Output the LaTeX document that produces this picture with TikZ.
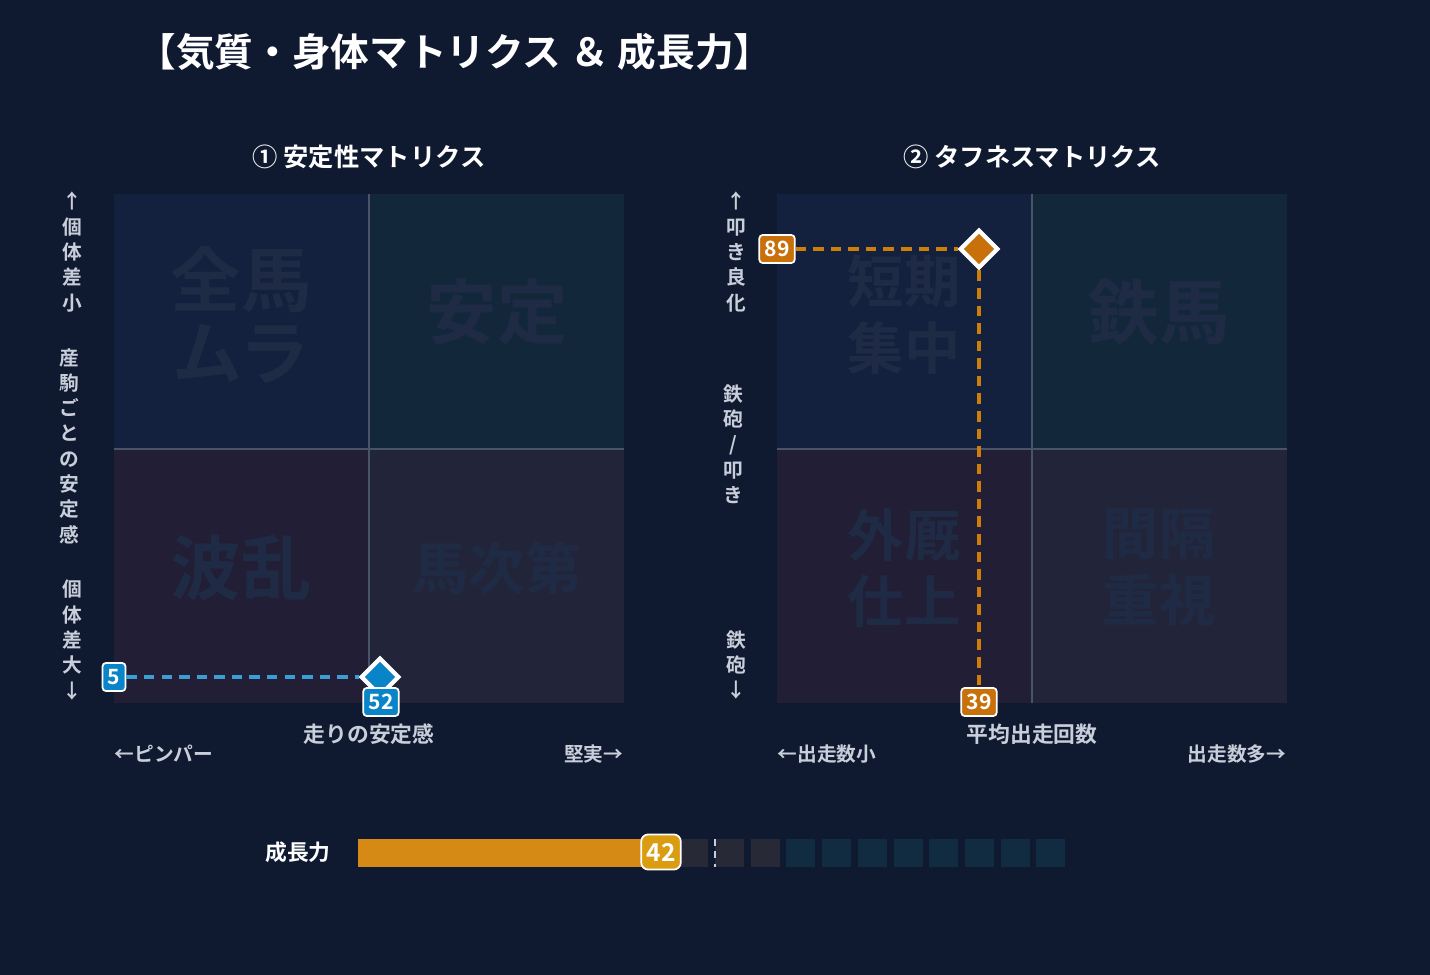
\documentclass[tikz,border=0pt]{standalone}
\usepackage{fontspec}
\setmainfont{Noto Sans CJK JP}[BoldFont={* Bold}]
\usetikzlibrary{shapes.geometric}
\definecolor{bg}{HTML}{0F1930}
\definecolor{qTL}{HTML}{13213F}
\definecolor{qTR}{HTML}{12283A}
\definecolor{qBL}{HTML}{211E35}
\definecolor{qBR}{HTML}{22253A}
\definecolor{mark}{HTML}{1F2B45}
\definecolor{grid}{HTML}{4A5468}
\definecolor{ptblue}{HTML}{0A84C8}
\definecolor{ptorange}{HTML}{C8700A}
\definecolor{barorange}{HTML}{D48A14}
\definecolor{cellgray}{HTML}{272A36}
\definecolor{cellteal}{HTML}{112B40}
\definecolor{lbl}{HTML}{C9CFDA}
\tikzset{
  quad/.style={draw=none},
  wmark/.style={text=mark,font=\fontsize{20}{21}\selectfont\bfseries,align=center},
  axis/.style={text=lbl,font=\fontsize{5.6}{7.2}\selectfont\bfseries,align=center,inner sep=0pt},
  tag/.style={draw=white,line width=0.5pt,rounded corners=1pt,text=white,font=\fontsize{6}{6}\selectfont\bfseries,inner sep=1.5pt,minimum height=8pt},
  pt/.style={diamond,draw=white,line width=1.2pt,minimum size=11pt,inner sep=0pt},
  guide/.style={dashed,dash pattern=on 3pt off 2pt,line width=0.9pt}
}
\begin{document}
\begin{tikzpicture}[x=0.1mm,y=-0.1mm]
\fill[bg] (0,0) rectangle (1430,975);
\useasboundingbox (0,0) rectangle (1430,975);
% title
\node[anchor=west,text=white,font=\fontsize{11}{11}\selectfont\bfseries] (title) at (125,52) {【気質・身体マトリクス ＆ 成長力】};
% left matrix
\node[text=white,font=\fontsize{7.2}{7.2}\selectfont\bfseries] (lhead) at (369,157) {① 安定性マトリクス};
\fill[qTL] (114,194) rectangle (369,449);
\fill[qTR] (369,194) rectangle (624,449);
\fill[qBL] (114,449) rectangle (369,703);
\fill[qBR] (369,449) rectangle (624,703);
\draw[grid,line width=0.6pt] (369,194) -- (369,703) (114,449) -- (624,449);
\node[wmark] (lTL) at (241,315) {全馬\\ムラ};
\node[wmark] (lTR) at (497,312) {安定};
\node[wmark] (lBL) at (241,568) {波乱};
\node[wmark,font=\fontsize{16}{17}\selectfont\bfseries] (lBR) at (497,568) {馬次第};
\node[axis] (ly1) at (72,252) {↑\\個\\体\\差\\小};
\node[axis] (ly2) at (69,446) {産\\駒\\ご\\と\\の\\安\\定\\感};
\node[axis] (ly3) at (72,640) {個\\体\\差\\大\\↓};
\node[text=lbl,font=\fontsize{6.2}{6.2}\selectfont\bfseries] (lx) at (369,734) {走りの安定感};
\node[axis,anchor=west] (lxl) at (114,754) {←ピンパー};
\node[axis,anchor=east] (lxr) at (624,754) {堅実→};
\node[pt,fill=ptblue] (lp) at (380,677) {};
\node[tag,fill=ptblue] (lvy) at (114,677) {5};
\node[tag,fill=ptblue] (lvx) at (381,702) {52};
\draw[guide,ptblue!80!white] (lvy) -- (lp);
% right matrix
\node[text=white,font=\fontsize{7.2}{7.2}\selectfont\bfseries] (rhead) at (1032,157) {② タフネスマトリクス};
\fill[qTL] (777,194) rectangle (1032,449);
\fill[qTR] (1032,194) rectangle (1287,449);
\fill[qBL] (777,449) rectangle (1032,703);
\fill[qBR] (1032,449) rectangle (1287,703);
\draw[grid,line width=0.6pt] (1032,194) -- (1032,703) (777,449) -- (1287,449);
\node[wmark,font=\fontsize{16}{19}\selectfont\bfseries] (rTL) at (904,315) {短期\\集中};
\node[wmark] (rTR) at (1159,312) {鉄馬};
\node[wmark,font=\fontsize{16}{19}\selectfont\bfseries] (rBL) at (904,568) {外厩\\仕上};
\node[wmark,font=\fontsize{16}{19}\selectfont\bfseries] (rBR) at (1159,568) {間隔\\重視};
\node[axis] (ry1) at (736,252) {↑\\叩\\き\\良\\化};
\node[axis] (ry2) at (733,444) {鉄\\砲\\/\\叩\\き};
\node[axis] (ry3) at (736,665) {鉄\\砲\\↓};
\node[text=lbl,font=\fontsize{6.2}{6.2}\selectfont\bfseries] (rx) at (1032,734) {平均出走回数};
\node[axis,anchor=west] (rxl) at (777,754) {←出走数小};
\node[axis,anchor=east] (rxr) at (1287,754) {出走数多→};
\node[pt,fill=ptorange] (rp) at (979,249) {};
\node[tag,fill=ptorange] (rvy) at (777,249) {89};
\node[tag,fill=ptorange] (rvx) at (979,702) {39};
\draw[guide,ptorange!90!yellow] (rvy) -- (rp);
\draw[guide,ptorange!90!yellow] (rp) -- (rvx);
% growth bar
\node[text=white,font=\fontsize{6.2}{6.2}\selectfont\bfseries,anchor=east] (glabel) at (343,852) {成長力};
\foreach \i in {9,10,11} \fill[cellgray] (358+35.7*\i,839) rectangle ++(29,28);
\foreach \i in {12,...,19} \fill[cellteal] (358+35.7*\i,839) rectangle ++(29,28);
\fill[barorange] (358,839) rectangle (672,867);
\coordinate (gmark) at (715,839);
\draw[lbl,dashed,dash pattern=on 2pt off 1.5pt,line width=0.5pt] (gmark) -- ++(0,28);
\node[tag,fill=barorange!85!yellow,rounded corners=2pt,font=\fontsize{7}{7}\selectfont\bfseries,minimum height=10pt] (gval) at (661,852) {42};
\end{tikzpicture}
\end{document}
